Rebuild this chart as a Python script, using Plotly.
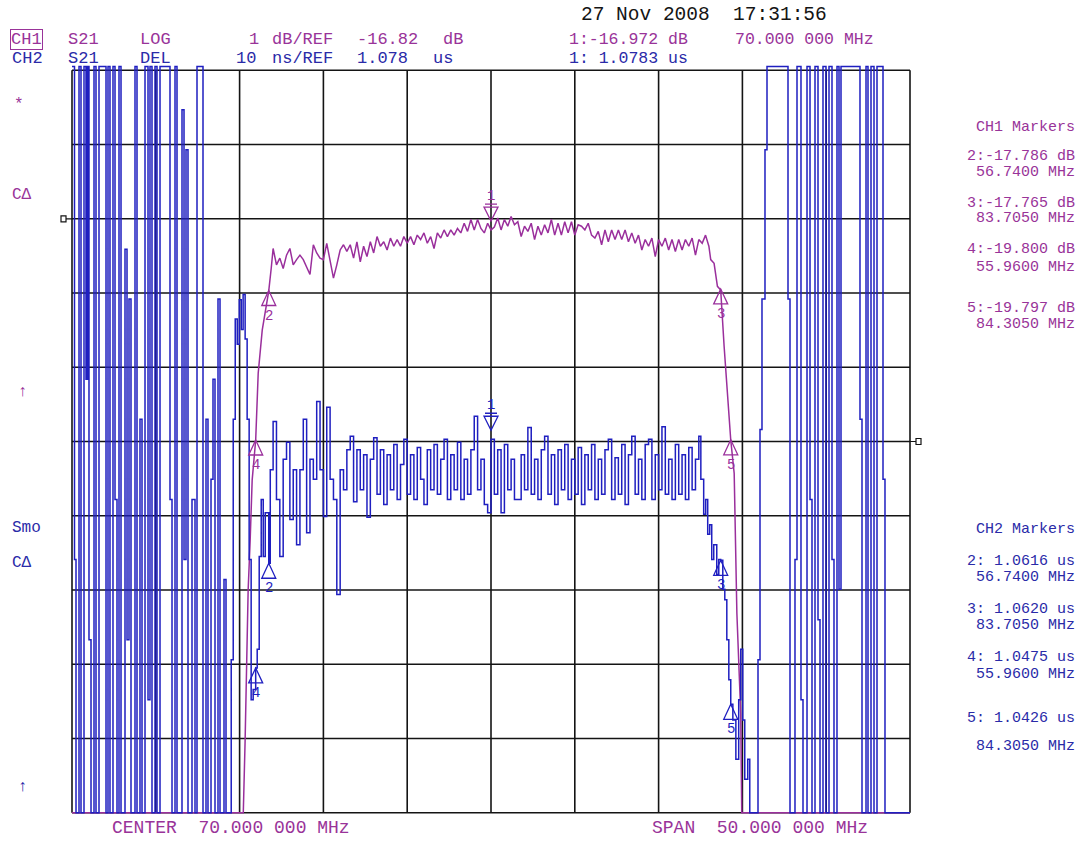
import plotly.graph_objects as go

# ---------------- instrument settings ----------------
CENTER_MHZ = 70.0
SPAN_MHZ = 50.0
N_DIV = 10
CH1_REF_DB, CH1_DB_PER_DIV, CH1_REF_POS = -16.82, 1.0, 8     # ref line 8 div above bottom
CH2_REF_US, CH2_US_PER_DIV, CH2_REF_POS = 1.078, 0.010, 5    # ref line at centre

# ---------------- CH1  S21 LOG  (MHz, dB) ----------------
CH1_LEFT_SKIRT = [
    (45.00, -24.82), (55.22, -24.82), (55.33, -23.84), (55.51, -21.82), (55.63, -21.15),
    (55.75, -20.34), (55.96, -19.80), (56.11, -18.90), (56.35, -18.32), (56.65, -17.95),
    (56.74, -17.79), (56.89, -17.48),
]
CH1_PASSBAND = [
    (57.0, -17.22), (57.2, -17.44), (57.4, -17.35), (57.6, -17.49), (57.8, -17.31),
    (58.0, -17.22), (58.2, -17.44), (58.4, -17.37), (58.6, -17.31), (58.8, -17.37),
    (59.0, -17.46), (59.2, -17.57), (59.4, -17.17), (59.6, -17.28), (59.8, -17.35),
    (60.0, -17.37), (60.2, -17.15), (60.4, -17.37), (60.6, -17.62), (60.8, -17.44),
    (61.0, -17.24), (61.2, -17.17), (61.4, -17.26), (61.6, -17.17), (61.8, -17.35),
    (62.0, -17.13), (62.2, -17.40), (62.4, -17.19), (62.6, -17.33), (62.8, -17.13),
    (63.0, -17.28), (63.2, -17.06), (63.4, -17.19), (63.6, -17.13), (63.8, -17.24),
    (64.0, -17.08), (64.2, -17.19), (64.4, -17.10), (64.6, -17.19), (64.8, -17.06),
    (65.0, -17.15), (65.2, -17.06), (65.4, -17.17), (65.6, -17.04), (65.8, -17.10),
    (66.0, -17.01), (66.2, -17.15), (66.4, -17.06), (66.6, -17.22), (66.8, -17.01),
    (67.0, -17.08), (67.2, -16.97), (67.4, -17.06), (67.6, -16.97), (67.8, -17.04),
    (68.0, -16.95), (68.2, -17.01), (68.4, -16.88), (68.6, -16.99), (68.8, -16.83),
    (69.0, -16.97), (69.2, -16.83), (69.4, -16.95), (69.6, -17.01), (69.8, -16.88),
    (70.0, -16.97), (70.2, -16.93), (70.4, -16.81), (70.6, -16.97), (70.8, -16.83),
    (71.0, -16.92), (71.2, -16.79), (71.4, -16.90), (71.6, -16.86), (71.8, -17.06),
    (72.0, -16.92), (72.2, -16.99), (72.4, -16.88), (72.6, -17.10), (72.8, -16.92),
    (73.0, -17.04), (73.2, -16.90), (73.4, -17.01), (73.6, -16.83), (73.8, -17.04),
    (74.0, -16.88), (74.2, -17.04), (74.4, -16.86), (74.6, -17.01), (74.8, -16.86),
    (75.0, -17.04), (75.2, -16.90), (75.4, -16.92), (75.6, -16.97), (75.8, -16.88),
    (76.0, -17.04), (76.2, -17.08), (76.4, -16.99), (76.6, -17.17), (76.8, -16.97),
    (77.0, -17.13), (77.2, -16.97), (77.4, -17.10), (77.6, -16.97), (77.8, -17.10),
    (78.0, -16.97), (78.2, -17.13), (78.4, -17.01), (78.6, -17.15), (78.8, -17.04),
    (79.0, -17.24), (79.2, -17.10), (79.4, -17.19), (79.6, -17.08), (79.8, -17.33),
    (80.0, -17.10), (80.2, -17.19), (80.4, -17.08), (80.6, -17.24), (80.8, -17.10),
    (81.0, -17.26), (81.2, -17.10), (81.4, -17.24), (81.6, -17.10), (81.8, -17.19),
    (82.0, -17.08), (82.2, -17.31), (82.4, -17.10), (82.6, -17.15), (82.8, -17.04),
    (83.0, -17.19),
]
CH1_RIGHT_SKIRT = [
    (83.11, -17.37), (83.31, -17.42), (83.51, -17.73), (83.705, -17.78), (83.91, -18.54),
    (84.11, -19.21), (84.305, -19.80), (84.51, -20.25), (84.67, -22.13), (84.90, -23.48),
    (84.96, -24.82), (95.00, -24.82),
]

# ---------------- CH2  S21 DEL  (MHz, us), held until the next point ----------------
CH2_LEFT_OOB = [
    (45.000, 1.1285), (45.149, 1.0621), (45.239, 1.0280), (45.418, 1.1285), (45.537, 1.0280),
    (45.716, 1.1285), (45.835, 1.0864), (45.925, 1.1285), (46.014, 1.0513), (46.134, 1.0280),
    (46.313, 1.1285), (46.432, 1.0280), (46.611, 1.1285), (47.029, 1.0280), (47.148, 1.1285),
    (47.267, 1.0280), (47.446, 1.1285), (47.566, 1.0702), (47.685, 1.0280), (47.804, 1.1285),
    (47.924, 1.0280), (48.162, 1.1039), (48.282, 1.0513), (48.401, 1.0972), (48.520, 1.0280),
    (48.759, 1.1285), (48.878, 1.0280), (49.057, 1.0810), (49.177, 1.0280), (49.356, 1.1285),
    (49.535, 1.0432), (49.654, 1.1285), (49.773, 1.0280), (49.952, 1.1285), (50.072, 1.0280),
    (50.251, 1.1285), (50.847, 1.0702), (50.967, 1.0280), (51.146, 1.1285), (51.265, 1.0280),
    (51.563, 1.1227), (51.683, 1.0621), (51.802, 1.1173), (51.921, 1.0280), (52.160, 1.0702),
    (52.339, 1.0280), (52.458, 1.1285), (52.816, 1.0280), (52.995, 1.0810), (53.114, 1.0280),
    (53.294, 1.0729), (53.413, 1.0864), (53.532, 1.0280), (53.711, 1.0972), (53.831, 1.0280),
    (54.069, 1.0594), (54.189, 1.0280), (54.427, 1.0280),
]
CH2_LEFT_SKIRT = [
    (54.50, 1.0486), (54.62, 1.0810), (54.74, 1.0945), (54.86, 1.0911), (54.98, 1.0971),
    (55.10, 1.0931), (55.21, 1.0978), (55.33, 1.0918), (55.45, 1.0810), (55.57, 1.0621),
    (55.69, 1.0432), (55.81, 1.0446), (55.96, 1.0475), (56.05, 1.0500), (56.17, 1.0625),
    (56.29, 1.0702), (56.41, 1.0625), (56.53, 1.0684), (56.74, 1.0616), (56.83, 1.0742),
]
CH2_PASSBAND = [
    (57.0, 1.0807), (57.2, 1.0702), (57.4, 1.0625), (57.6, 1.0756), (57.8, 1.0779),
    (58.0, 1.0675), (58.2, 1.0742), (58.4, 1.0641), (58.6, 1.0742), (58.8, 1.0810),
    (59.0, 1.0657), (59.2, 1.0756), (59.4, 1.0729), (59.6, 1.0834), (59.8, 1.0742),
    (60.0, 1.0679), (60.2, 1.0826), (60.4, 1.0729), (60.6, 1.0702), (60.8, 1.0574),
    (61.0, 1.0742), (61.2, 1.0715), (61.4, 1.0769), (61.6, 1.0787), (61.8, 1.0699),
    (62.0, 1.0769), (62.2, 1.0715), (62.4, 1.0762), (62.6, 1.0678), (62.8, 1.0756),
    (63.0, 1.0785), (63.2, 1.0709), (63.4, 1.0769), (63.6, 1.0695), (63.8, 1.0762),
    (64.0, 1.0715), (64.2, 1.0776), (64.4, 1.0702), (64.6, 1.0749), (64.8, 1.0783),
    (65.0, 1.0709), (65.2, 1.0762), (65.4, 1.0702), (65.6, 1.0772), (65.8, 1.0729),
    (66.0, 1.0695), (66.2, 1.0769), (66.4, 1.0715), (66.6, 1.0776), (66.8, 1.0709),
    (67.0, 1.0756), (67.2, 1.0783), (67.4, 1.0702), (67.6, 1.0762), (67.8, 1.0715),
    (68.0, 1.0779), (68.2, 1.0702), (68.4, 1.0756), (68.6, 1.0709), (68.8, 1.0769),
    (69.0, 1.0814), (69.2, 1.0715), (69.4, 1.0756), (69.6, 1.0695), (69.8, 1.0684),
    (70.0, 1.0783), (70.2, 1.0709), (70.4, 1.0769), (70.6, 1.0684), (70.8, 1.0776),
    (71.0, 1.0715), (71.2, 1.0756), (71.4, 1.0702), (71.6, 1.0702), (71.8, 1.0762),
    (72.0, 1.0715), (72.2, 1.0799), (72.4, 1.0709), (72.6, 1.0756), (72.8, 1.0702),
    (73.0, 1.0769), (73.2, 1.0787), (73.4, 1.0709), (73.6, 1.0762), (73.8, 1.0695),
    (74.0, 1.0769), (74.2, 1.0715), (74.4, 1.0776), (74.6, 1.0702), (74.8, 1.0756),
    (75.0, 1.0709), (75.2, 1.0772), (75.4, 1.0695), (75.6, 1.0762), (75.8, 1.0715),
    (76.0, 1.0776), (76.2, 1.0702), (76.4, 1.0756), (76.6, 1.0709), (76.8, 1.0769),
    (77.0, 1.0783), (77.2, 1.0702), (77.4, 1.0758), (77.6, 1.0709), (77.8, 1.0776),
    (78.0, 1.0695), (78.2, 1.0762), (78.4, 1.0787), (78.6, 1.0709), (78.8, 1.0756),
    (79.0, 1.0702), (79.2, 1.0776), (79.4, 1.0783), (79.6, 1.0702), (79.8, 1.0762),
    (80.0, 1.0715), (80.2, 1.0800), (80.4, 1.0709), (80.6, 1.0756), (80.8, 1.0702),
    (81.0, 1.0776), (81.2, 1.0709), (81.4, 1.0762), (81.6, 1.0702), (81.8, 1.0772),
    (82.0, 1.0715), (82.2, 1.0756), (82.4, 1.0787),
]
CH2_RIGHT_SKIRT = [
    (82.52, 1.0729), (82.69, 1.0682), (82.81, 1.0702), (82.93, 1.0655), (83.05, 1.0668),
    (83.17, 1.0621), (83.29, 1.0641), (83.47, 1.0601), (83.59, 1.0621), (83.705, 1.0620),
    (83.83, 1.0581), (83.95, 1.0567), (84.07, 1.0513), (84.19, 1.0459), (84.305, 1.0426),
    (84.43, 1.0405), (84.61, 1.0352), (84.78, 1.0432), (84.90, 1.0500), (85.02, 1.0405),
    (85.14, 1.0325), (85.32, 1.0352), (85.44, 1.0280),
]
CH2_RIGHT_OOB = [
    (85.931, 1.0486), (86.050, 1.0796), (86.169, 1.0972), (86.348, 1.1173), (86.468, 1.1285),
    (87.721, 1.0972), (87.840, 1.0280), (88.138, 1.0621), (88.258, 1.1285), (88.496, 1.0432),
    (88.616, 1.0280), (88.855, 1.1285), (89.034, 1.0702), (89.153, 1.0280), (89.332, 1.1285),
    (89.511, 1.0540), (89.630, 1.0280), (89.809, 1.1285), (89.988, 1.0280), (90.167, 1.1285),
    (90.346, 1.0621), (90.465, 1.0280), (90.644, 1.1285), (90.764, 1.0581), (90.883, 1.1285),
    (92.016, 1.0810), (92.136, 1.0280), (92.375, 1.1285), (92.494, 1.0280), (92.673, 1.1285),
    (92.852, 1.0280), (93.031, 1.1285), (93.389, 1.0729), (93.508, 1.0280), (95.000, 1.0280),
]

# ---------------- markers ----------------
MKR_LABELS = ["1", "2", "3", "4", "5"]
MKR_FREQ_MHZ = [70.0, 56.74, 83.705, 55.96, 84.305]
CH1_MKR_DB = [-16.972, -17.786, -17.765, -19.800, -19.797]
CH2_MKR_US = [1.0783, 1.0616, 1.0620, 1.0475, 1.0426]

# ---------------- screen texts ----------------
DATE_TEXT = "27 Nov 2008  17:31:56"
CH1_HEADER = ["CH1", "S21", "LOG", "1", "dB/REF", "-16.82", "dB"]
CH2_HEADER = ["CH2", "S21", "DEL", "10", "ns/REF", "1.078", "us"]
CH1_ACTIVE = ["1:-16.972 dB", "70.000 000 MHz"]
CH2_ACTIVE = ["1: 1.0783 us"]
CH1_MKR_TEXT = ["CH1 Markers", "2:-17.786 dB", "56.7400 MHz", "3:-17.765 dB", "83.7050 MHz",
                "4:-19.800 dB", "55.9600 MHz", "5:-19.797 dB", "84.3050 MHz"]
CH2_MKR_TEXT = ["CH2 Markers", "2: 1.0616 us", "56.7400 MHz", "3: 1.0620 us", "83.7050 MHz",
                "4: 1.0475 us", "55.9600 MHz", "5: 1.0426 us", "84.3050 MHz"]
CH1_SIDE = ["*", "C\u0394", "\u2191"]
CH2_SIDE = ["Smo", "C\u0394", "\u2191"]
BOTTOM_TEXT = ["CENTER  70.000 000 MHz", "SPAN  50.000 000 MHz"]

# ---------------- styling / layout ----------------
PURPLE = "#9a2f9c"
PURPLE_TXT = "#993399"
BLUE = "#1f1fc0"
BLUE_TXT = "#2a2aa8"
BLACK = "#141414"
MONO = "Liberation Mono, DejaVu Sans Mono, monospace"

W, H = 1082, 841
GX0, GX1 = 72.0, 910.0        # graticule left / right (px)
GY0, GY1 = 70.3, 812.7        # graticule top / bottom (px)
ML, MR, MT, MB = 66, 166, 64, 22
PW, PH = W - ML - MR, H - MT - MB

f_start = CENTER_MHZ - SPAN_MHZ / 2
f_stop = CENTER_MHZ + SPAN_MHZ / 2
mhz_px = SPAN_MHZ / (GX1 - GX0)
x_range = [f_start - (GX0 - ML) * mhz_px, f_stop + (ML + PW - GX1) * mhz_px]
div_px = (GY1 - GY0) / N_DIV
pad_top_div = (GY0 - MT) / div_px
pad_bot_div = (MT + PH - GY1) / div_px

ch1_bot = CH1_REF_DB - CH1_REF_POS * CH1_DB_PER_DIV
ch1_top = ch1_bot + N_DIV * CH1_DB_PER_DIV
y1_range = [ch1_bot - pad_bot_div * CH1_DB_PER_DIV, ch1_top + pad_top_div * CH1_DB_PER_DIV]
ch2_bot = CH2_REF_US - CH2_REF_POS * CH2_US_PER_DIV
ch2_top = ch2_bot + N_DIV * CH2_US_PER_DIV
y2_range = [ch2_bot - pad_bot_div * CH2_US_PER_DIV, ch2_top + pad_top_div * CH2_US_PER_DIV]

ch1 = CH1_LEFT_SKIRT + CH1_PASSBAND + CH1_RIGHT_SKIRT
ch2 = CH2_LEFT_OOB + CH2_LEFT_SKIRT + CH2_PASSBAND + CH2_RIGHT_SKIRT + CH2_RIGHT_OOB

fig = go.Figure()
fig.add_trace(go.Scatter(x=[p[0] for p in ch1], y=[p[1] for p in ch1], mode="lines",
                         line=dict(color=PURPLE, width=1.5), yaxis="y", hoverinfo="skip"))
fig.add_trace(go.Scatter(x=[p[0] for p in ch2], y=[p[1] for p in ch2], mode="lines",
                         line=dict(color=BLUE, width=1.5, shape="hv"), yaxis="y2",
                         hoverinfo="skip"))


def px_x(px):
    return (px - ML) / PW


def px_y(py):
    return 1 - (py - MT) / PH


def txt(s, px, py, color, size, anchor="left", **kw):
    return dict(text=s, x=px_x(px), y=px_y(py), xref="paper", yref="paper",
                xanchor=anchor, yanchor="middle", showarrow=False,
                font=dict(family=MONO, size=size, color=color), **kw)


ann = []
# header rows
hdr_x = [10, 66, 138, 247, 270, 355, 441]
hdr2_x = [10, 66, 138, 234, 270, 355, 431]
for i, s in enumerate(CH1_HEADER):
    extra = dict(bordercolor=PURPLE_TXT, borderwidth=1, borderpad=0) if i == 0 else {}
    ann.append(txt(s, hdr_x[i], 39.5, PURPLE_TXT, 17, **extra))
for i, s in enumerate(CH2_HEADER):
    ann.append(txt(s, hdr2_x[i], 58.5, BLUE_TXT, 17))
ann.append(txt(DATE_TEXT, 579, 15, BLACK, 19.5))
ann.append(txt(CH1_ACTIVE[0], 567, 39.5, PURPLE_TXT, 16.5))
ann.append(txt(CH1_ACTIVE[1], 733, 39.5, PURPLE_TXT, 16.5))
ann.append(txt(CH2_ACTIVE[0], 567, 58.5, BLUE_TXT, 16.5))

# side labels
for s, py, dx in zip(CH1_SIDE, [105, 195, 392], [12, 10, 16]):
    ann.append(txt(s, dx, py, PURPLE_TXT, 16))
for s, py, dx in zip(CH2_SIDE, [528, 563, 787], [10, 10, 16]):
    ann.append(txt(s, dx, py, BLUE_TXT, 16))

# marker tables on the right
for s, py in zip(CH1_MKR_TEXT, [127, 156, 172, 203, 219, 250, 267, 308, 324]):
    ann.append(txt(s, 1077, py, PURPLE_TXT, 15, anchor="right"))
for s, py in zip(CH2_MKR_TEXT, [529, 561, 577, 609, 625, 657, 674, 718, 746]):
    ann.append(txt(s, 1077, py, BLUE_TXT, 15, anchor="right"))

# bottom
ann.append(txt(BOTTOM_TEXT[0], 110, 828, PURPLE_TXT, 18))
ann.append(txt(BOTTOM_TEXT[1], 650, 828, PURPLE_TXT, 18))

shapes = []
# graticule (10 x 10 divisions)
for i in range(N_DIV + 1):
    fx = f_start + i * SPAN_MHZ / N_DIV
    shapes.append(dict(type="line", xref="x", yref="y", x0=fx, x1=fx, y0=ch1_bot, y1=ch1_top,
                       line=dict(color=BLACK, width=1.6), layer="below"))
    yv = ch1_bot + i * CH1_DB_PER_DIV
    shapes.append(dict(type="line", xref="x", yref="y", x0=f_start, x1=f_stop, y0=yv, y1=yv,
                       line=dict(color=BLACK, width=1.6), layer="below"))

# marker symbols
for lab, f, v1, v2 in zip(MKR_LABELS, MKR_FREQ_MHZ, CH1_MKR_DB, CH2_MKR_US):
    for v, yref, col in ((v1, "y", PURPLE), (v2, "y2", BLUE)):
        if lab == "1":
            path = "M0,9 L-7,23 L7,23 Z M-6,26 L6,26"
            yshift = 34
        else:
            path = "M0,0 L-7,-15 L7,-15 Z"
            yshift = -25
        shapes.append(dict(type="path", xref="x", yref=yref, xsizemode="pixel",
                           ysizemode="pixel", xanchor=f, yanchor=v, path=path,
                           line=dict(color=col, width=1.3), layer="above"))
        ann.append(dict(text=lab, x=f, y=v, xref="x", yref=yref, yshift=yshift,
                        showarrow=False, font=dict(family=MONO, size=14, color=col)))

# reference-position indicators
shapes.append(dict(type="path", xref="paper", yref="y", xsizemode="pixel", ysizemode="pixel",
                   xanchor=px_x(GX0), yanchor=CH1_REF_DB,
                   path="M-11,3 L-6,3 L-6,-3 L-11,-3 Z M-6,0 L0,0",
                   line=dict(color=BLACK, width=1.2)))
shapes.append(dict(type="path", xref="paper", yref="y2", xsizemode="pixel", ysizemode="pixel",
                   xanchor=px_x(GX1), yanchor=CH2_REF_US,
                   path="M11,3 L6,3 L6,-3 L11,-3 Z M6,0 L0,0",
                   line=dict(color=BLACK, width=1.2)))

fig.update_layout(
    width=W, height=H, margin=dict(l=ML, r=MR, t=MT, b=MB, pad=0),
    paper_bgcolor="white", plot_bgcolor="white", showlegend=False,
    xaxis=dict(range=x_range, showgrid=False, zeroline=False, showticklabels=False,
               ticks="", showline=False, fixedrange=True),
    yaxis=dict(range=y1_range, showgrid=False, zeroline=False, showticklabels=False,
               ticks="", showline=False, fixedrange=True),
    yaxis2=dict(range=y2_range, overlaying="y", side="right", showgrid=False,
                zeroline=False, showticklabels=False, ticks="", showline=False,
                fixedrange=True),
    annotations=ann, shapes=shapes,
)

fig.write_html("out.html", config={"displayModeBar": False},
               post_script="document.body.style.margin='0';")
